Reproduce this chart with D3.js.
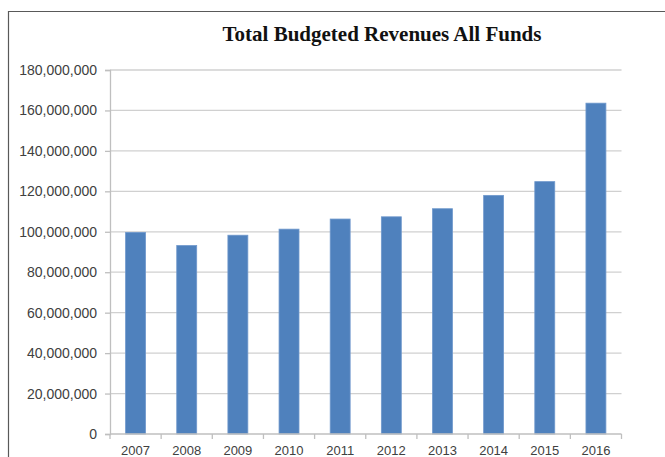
<!DOCTYPE html>
<html>
<head>
<meta charset="utf-8">
<script src="https://cdn.jsdelivr.net/npm/d3@7"></script>
<style>
  html, body { margin: 0; padding: 0; background: #fff; }
  svg { display: block; }
</style>
</head>
<body>
<svg id="chart" width="665" height="457"></svg>
<script>
// Budget years and total budgeted revenues (all funds)
const years = ["2007", "2008", "2009", "2010", "2011", "2012", "2013", "2014", "2015", "2016"];
const revenues = [99700000, 93200000, 98300000, 101300000, 106300000, 107400000, 111400000, 118000000, 124800000, 163600000];
const yTicks = [0, 20000000, 40000000, 60000000, 80000000, 100000000, 120000000, 140000000, 160000000, 180000000];
const title = "Total Budgeted Revenues All Funds";

const svg = d3.select("#chart");
const W = 665, H = 457;
const plot = { left: 110, right: 621.5, top: 70, bottom: 434 };

// Outer chart frame (top and left edges visible)
svg.append("path")
  .attr("d", `M8.5,${H} L8.5,11.5 L${W},11.5`)
  .attr("fill", "none")
  .attr("stroke", "#595959")
  .attr("stroke-width", 1.2);

const x = d3.scaleBand()
  .domain(years)
  .range([plot.left, plot.right])
  .paddingInner(0.61)
  .paddingOuter(0.305);

const y = d3.scaleLinear()
  .domain([0, 180000000])
  .range([plot.bottom, plot.top]);

// Horizontal gridlines
svg.append("g")
  .selectAll("line")
  .data(yTicks.filter(d => d > 0))
  .join("line")
  .attr("x1", plot.left).attr("x2", plot.right)
  .attr("y1", d => y(d)).attr("y2", d => y(d))
  .attr("stroke", "#d0d0d0")
  .attr("stroke-width", 1.3);

// Y axis with outward tick marks
const yAxis = svg.append("g")
  .attr("transform", `translate(${plot.left},0)`)
  .call(d3.axisLeft(y).tickValues(yTicks).tickSize(5).tickPadding(8)
    .tickFormat(d3.format(",")));
yAxis.select(".domain").attr("stroke", "#bfbfbf").attr("stroke-width", 1.3);
yAxis.selectAll(".tick line").attr("stroke", "#bfbfbf").attr("stroke-width", 1.3);
yAxis.selectAll(".tick text")
  .attr("fill", "#404040")
  .style("font-family", "'Liberation Sans', Arial, sans-serif")
  .style("font-size", "14px");

// Bars
svg.append("g")
  .selectAll("rect")
  .data(years.map((yr, i) => ({ yr, v: revenues[i] })))
  .join("rect")
  .attr("x", d => x(d.yr))
  .attr("width", x.bandwidth())
  .attr("y", d => y(d.v))
  .attr("height", d => y(0) - y(d.v))
  .attr("fill", "#4f81bd")
  .attr("stroke", "#6f98cc")
  .attr("stroke-width", 0.8);

// X axis: baseline, category-boundary ticks and year labels
const bounds = d3.range(years.length + 1).map(i => plot.left + i * x.step());
const xg = svg.append("g");
xg.append("line")
  .attr("x1", plot.left).attr("x2", plot.right)
  .attr("y1", plot.bottom).attr("y2", plot.bottom)
  .attr("stroke", "#bfbfbf").attr("stroke-width", 1.3);
xg.selectAll("line.tick")
  .data(bounds)
  .join("line")
  .attr("class", "tick")
  .attr("x1", d => d).attr("x2", d => d)
  .attr("y1", plot.bottom).attr("y2", plot.bottom + 5)
  .attr("stroke", "#bfbfbf").attr("stroke-width", 1.3);
xg.selectAll("text")
  .data(years)
  .join("text")
  .attr("x", d => x(d) + x.bandwidth() / 2)
  .attr("y", plot.bottom + 21)
  .attr("text-anchor", "middle")
  .attr("fill", "#404040")
  .style("font-family", "'Liberation Sans', Arial, sans-serif")
  .style("font-size", "13px")
  .text(d => d);

// Title
svg.append("text")
  .attr("x", 382)
  .attr("y", 41)
  .attr("text-anchor", "middle")
  .attr("fill", "#111")
  .style("font-family", "'Liberation Serif', 'Times New Roman', serif")
  .style("font-weight", "bold")
  .style("font-size", "21px")
  .text(title);
</script>
</body>
</html>
